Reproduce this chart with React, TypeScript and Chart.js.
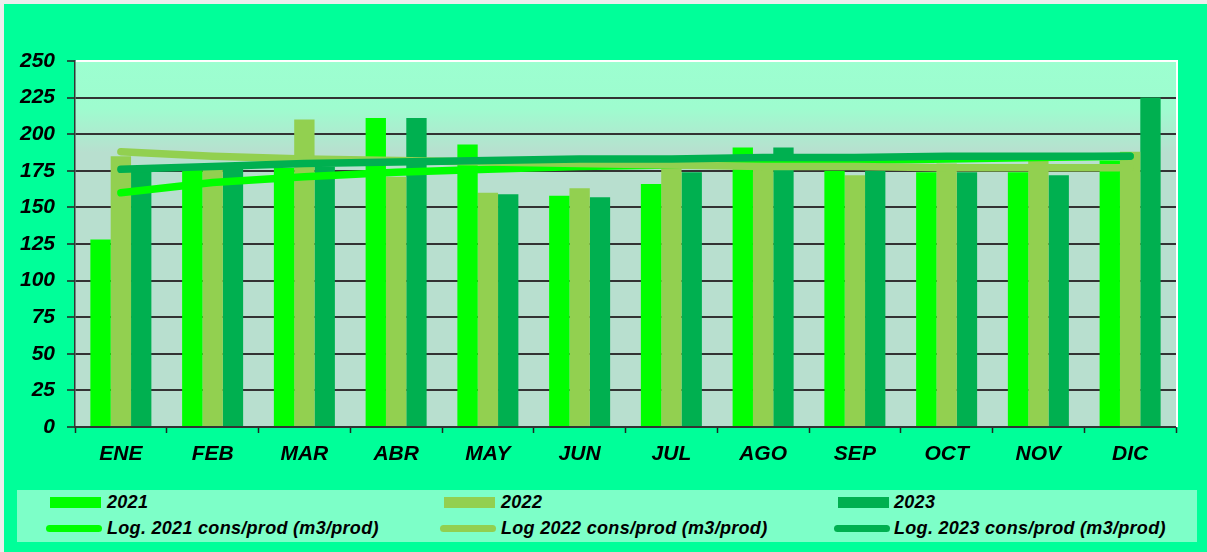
import React, { useEffect, useRef } from "react";
import { Chart, registerables } from "chart.js";

Chart.register(...registerables);

const months = ["ENE", "FEB", "MAR", "ABR", "MAY", "JUN", "JUL", "AGO", "SEP", "OCT", "NOV", "DIC"];
const yTicks = [0, 25, 50, 75, 100, 125, 150, 175, 200, 225, 250];

const values2021 = [128, 177, 177, 211, 193, 158, 166, 191, 175, 174, 174, 182];
const values2022 = [185, 176, 210, 171, 160, 163, 177, 182, 172, 180, 182, 188];
const values2023 = [176, 180, 178, 211, 159, 157, 174, 191, 175, 174, 172, 225];

const trend2021 = [160, 167, 171, 174, 176, 178, 179, 181, 182, 183, 184, 185];
const trend2022 = [188, 185, 183, 182, 181, 180, 179, 178, 178, 177, 177, 177];
const trend2023 = [176, 178, 180, 181, 182, 183, 183, 184, 184, 185, 185, 185];

const barLabels = ["2021", "2022", "2023"];
const trendLabels = [
  "Log. 2021 cons/prod (m3/prod)",
  "Log 2022 cons/prod (m3/prod)",
  "Log. 2023 cons/prod (m3/prod)",
];

const C2021 = "#00FF00";
const C2022 = "#92D050";
const C2023 = "#00B050";
const FONT = "'Liberation Sans', Arial, sans-serif";

const plotBg = {
  id: "plotBg",
  beforeDraw(chart: any) {
    const { ctx, chartArea } = chart;
    const { left, top, right, bottom } = chartArea;
    const g = ctx.createLinearGradient(0, top, 0, bottom);
    g.addColorStop(0, "#9CFFD0");
    g.addColorStop(0.13, "#9EFCCF");
    g.addColorStop(0.25, "#B8DFCF");
    g.addColorStop(1, "#B8DFCF");
    ctx.save();
    ctx.fillStyle = g;
    ctx.fillRect(left, top, right - left, bottom - top);
    ctx.restore();
  },
  afterDraw(chart: any) {
    const { ctx, chartArea } = chart;
    ctx.save();
    ctx.strokeStyle = "#FFFFFF";
    ctx.lineWidth = 2;
    ctx.beginPath();
    ctx.moveTo(chartArea.right + 1, chartArea.top - 1);
    ctx.lineTo(chartArea.right + 1, chartArea.bottom);
    ctx.stroke();
    ctx.restore();
  },
};

export default function App() {
  const ref = useRef<HTMLCanvasElement | null>(null);

  useEffect(() => {
    document.body.style.margin = "0";
    if (!ref.current) return;
    const barDs = (label: string, data: number[], color: string) => ({
      type: "bar" as const,
      label,
      data,
      backgroundColor: color,
      borderWidth: 0,
      categoryPercentage: 0.665,
      barPercentage: 1,
      order: 10,
    });
    const lineDs = (label: string, data: number[], color: string, order: number) => ({
      type: "line" as const,
      label,
      data,
      borderColor: color,
      backgroundColor: color,
      borderWidth: 7.5,
      borderCapStyle: "round" as const,
      borderJoinStyle: "round" as const,
      pointRadius: 0,
      tension: 0,
      fill: false,
      order,
    });
    const chart = new Chart(ref.current, {
      type: "bar",
      data: {
        labels: months,
        datasets: [
          barDs(barLabels[0], values2021, C2021),
          barDs(barLabels[1], values2022, C2022),
          barDs(barLabels[2], values2023, C2023),
          lineDs(trendLabels[0], trend2021, C2021, 3),
          lineDs(trendLabels[1], trend2022, C2022, 2),
          lineDs(trendLabels[2], trend2023, C2023, 1),
        ] as any,
      },
      options: {
        animation: false,
        responsive: false,
        maintainAspectRatio: false,
        layout: { padding: { left: 0, right: 31, top: 61, bottom: 0 } },
        plugins: { legend: { display: false }, tooltip: { enabled: false } },
        scales: {
          x: {
            offset: true,
            grid: {
              offset: true,
              drawOnChartArea: false,
              drawTicks: true,
              tickLength: 6,
              tickColor: "#222",
              tickWidth: 1.5,
            },
            border: { display: true, color: "#333", width: 2 },
            ticks: {
              color: "#000",
              padding: 9,
              font: { family: FONT, size: 21, weight: "bold", style: "italic" },
            },
            afterFit(scale: any) {
              scale.height = 125;
            },
          },
          y: {
            min: 0,
            max: 250,
            afterBuildTicks(scale: any) {
              scale.ticks = yTicks.map((v) => ({ value: v }));
            },
            grid: {
              color: (c: any) => (c.tick && c.tick.value === 250 ? "#FFFFFF" : "#333333"),
              lineWidth: 2,
              drawTicks: true,
              tickLength: 8,
              tickColor: "#222",
              tickWidth: 1.5,
            },
            border: { display: true, color: "#333", width: 1.5 },
            ticks: {
              color: "#000",
              padding: 12,
              font: { family: FONT, size: 21, weight: "bold", style: "italic" },
            },
            afterFit(scale: any) {
              scale.width = 75;
            },
          },
        },
      },
      plugins: [plotBg],
    });
    return () => chart.destroy();
  }, []);

  const legendFont: React.CSSProperties = {
    position: "absolute",
    fontFamily: FONT,
    fontWeight: "bold",
    fontStyle: "italic",
    fontSize: 18,
    letterSpacing: 0.3,
    color: "#000",
    lineHeight: "20px",
    whiteSpace: "nowrap",
  };
  const colsSwatch = [50, 444, 838];
  const colsText = [107, 501, 894];
  const colors = [C2021, C2022, C2023];

  return (
    <div
      style={{
        position: "fixed",
        left: 0,
        top: 0,
        width: 1207,
        height: 552,
        background: "#00FF99",
        overflow: "hidden",
      }}
    >
      <canvas ref={ref} width={1207} height={552} style={{ position: "absolute", left: 0, top: 0 }} />
      <div style={{ position: "absolute", left: 0, top: 0, width: 4, height: 552, background: "#EDEDED" }} />
      <div style={{ position: "absolute", left: 0, top: 0, width: 1207, height: 4, background: "#EDEDED" }} />
      <div
        style={{
          position: "absolute",
          left: 17,
          top: 490,
          width: 1180,
          height: 52,
          background: "#7DFFC8",
        }}
      >
        {barLabels.map((lab, i) => (
          <React.Fragment key={lab}>
            <div
              style={{
                position: "absolute",
                left: colsSwatch[i] - 17,
                top: 497 - 490,
                width: 51,
                height: 11,
                background: colors[i],
              }}
            />
            <div style={{ ...legendFont, left: colsText[i] - 17, top: 502 - 490 - 10 }}>{lab}</div>
          </React.Fragment>
        ))}
        {trendLabels.map((lab, i) => (
          <React.Fragment key={lab}>
            <div
              style={{
                position: "absolute",
                left: colsSwatch[i] - 4 - 17,
                top: 528 - 490 - 3.5,
                width: 56,
                height: 7,
                borderRadius: 4,
                background: colors[i],
              }}
            />
            <div style={{ ...legendFont, left: colsText[i] - 17, top: 528 - 490 - 10 }}>{lab}</div>
          </React.Fragment>
        ))}
      </div>
    </div>
  );
}
